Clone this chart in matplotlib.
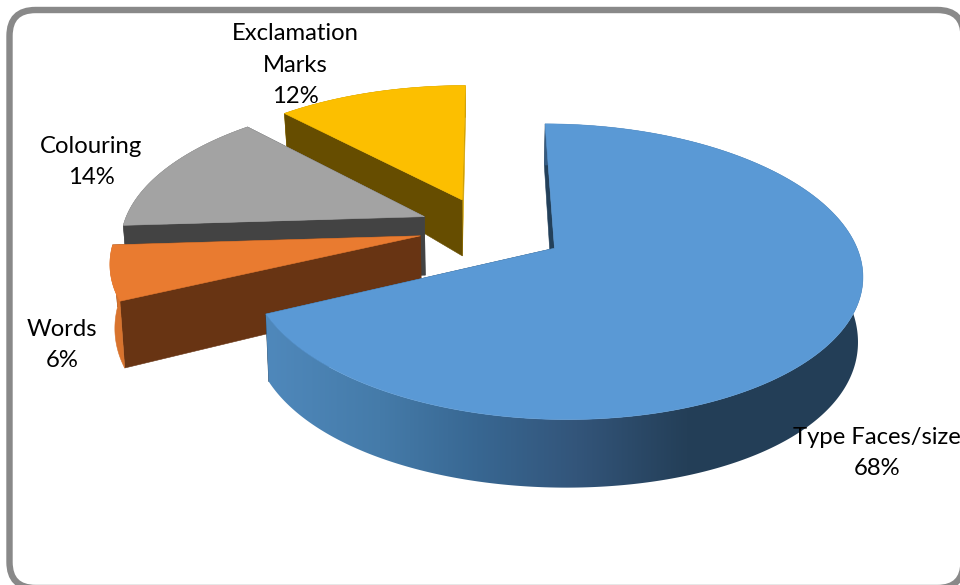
import numpy as np
import matplotlib
matplotlib.use("Agg")
import matplotlib.pyplot as plt
from matplotlib.patches import Polygon, FancyBboxPatch

categories = ["Type Faces/size", "Words", "Colouring", "Exclamation\nMarks"]
values = [68, 6, 14, 12]

# styles, one per slice, same order as the categories
top_colors = ["#5a99d5", "#e97b30", "#a3a3a3", "#fcbf00"]
side_colors = ["#23405a", "#683413", "#434343", "#664d00"]
far_colors = ["#23405a", "#683413", "#4a4c50", "#d2a000"]
rim_colors = [None, "#d8732d", "#6e6e6e", "#b88c00"]
explode = [0.26, 0.22, 0.22, 0.22]
radius = [0.97, 0.99, 0.99, 0.99]
label_xy = [(877, 453), (62, 345), (91, 162), (295, 65)]

# projection of the pie (pixel canvas, perspective view)
CX, CY = 486, 228
R_TOP, A_TOP, K_TOP = 305, 142, 0.16
R_BOT, A_BOT, K_BOT, CY_BOT = 301, 160, 0.10, 288

# shading of the blue rim, from left to right on the canvas
RIM_PX = [268, 380, 477, 577, 686, 870]
RIM_RGB = np.array([matplotlib.colors.to_rgb(c) for c in
                    ["#4f88bb", "#457ba9", "#386792", "#33557a", "#243f58", "#233e57"]])


def project(x, y, bottom=False):
    x, y = np.asarray(x, float), np.asarray(y, float)
    if bottom:
        return (CX + R_BOT * x / (1 + K_TOP * y),
                CY_BOT - A_BOT * y / (1 + K_BOT * y))
    return (CX + R_TOP * x / (1 + K_TOP * y),
            CY - A_TOP * y / (1 + K_TOP * y))


def strip(x, y):
    tx, ty = project(x, y)
    bx, by = project(x, y, bottom=True)
    return np.column_stack([np.r_[tx, bx[::-1]], np.r_[ty, by[::-1]]])


fig = plt.figure(figsize=(9.6, 5.85), dpi=100)
ax = fig.add_axes([0, 0, 1, 1])
ax.set_xlim(0, 960)
ax.set_ylim(585, 0)
ax.axis("off")

ax.add_patch(FancyBboxPatch((9.5, 10), 954, 578, boxstyle="round,pad=0,rounding_size=26",
                            facecolor="white", edgecolor="#898989", lw=4.6, zorder=0))

fractions = np.array(values) / sum(values)
ends = np.cumsum(fractions) * 2 * np.pi
starts = np.r_[0, ends[:-1]]


def draw_rim(i, pts, z):
    if rim_colors[i] is not None:
        ax.add_patch(Polygon(pts, closed=True, facecolor=rim_colors[i],
                             edgecolor=rim_colors[i], lw=0.4, zorder=z))
        return
    xs = np.arange(pts[:, 0].min() - 2, pts[:, 0].max() + 3)
    rgb = np.stack([np.interp(xs, RIM_PX, RIM_RGB[:, c]) for c in range(3)], axis=-1)[None, :, :]
    im = ax.imshow(rgb, extent=(xs[0], xs[-1], pts[:, 1].max() + 2, pts[:, 1].min() - 2),
                   aspect="auto", zorder=z, interpolation="bilinear")
    clip = Polygon(pts, closed=True, transform=ax.transData)
    im.set_clip_path(clip)


base = 1.0
for i in [3, 2, 1, 0]:
    a0, a1 = starts[i], ends[i]
    mid = (a0 + a1) / 2
    ex, ey = explode[i] * np.sin(mid), explode[i] * np.cos(mid)
    r = radius[i]
    t = np.linspace(a0, a1, max(24, values[i] * 6))
    arc_x = ex + r * np.sin(t)
    arc_y = ey + r * np.cos(t)

    radial = sorted([(arc_x[0], arc_y[0], far_colors[i] if arc_y[0] > arc_y[-1] else side_colors[i]),
                     (arc_x[-1], arc_y[-1], far_colors[i] if arc_y[-1] > arc_y[0] else side_colors[i])],
                    key=lambda p: -p[1])
    rim_first = arc_y.mean() > 0
    if rim_first:
        draw_rim(i, strip(arc_x, arc_y), base)
    for k, (qx, qy, col) in enumerate(radial):
        pts = strip(np.array([ex, qx]), np.array([ey, qy]))
        ax.add_patch(Polygon(pts, closed=True, facecolor=col, edgecolor=col,
                             lw=0.4, zorder=base + 0.1 + k * 0.1))
    if not rim_first:
        draw_rim(i, strip(arc_x, arc_y), base + 0.5)

    px, py = project(np.r_[ex, arc_x], np.r_[ey, arc_y])
    ax.add_patch(Polygon(np.column_stack([px, py]), closed=True, facecolor=top_colors[i],
                         edgecolor=top_colors[i], lw=0.4, zorder=base + 0.9))
    base += 1

ax.set_xlim(0, 960)
ax.set_ylim(585, 0)

for name, v, (lx, ly) in zip(categories, values, label_xy):
    ax.text(lx, ly, f"{name}\n{v}%", ha="center", va="center", fontsize=17.2,
            family=["Lato", "DejaVu Sans"], color="black", linespacing=1.62, zorder=20)

fig.savefig("out.png", dpi=100)
